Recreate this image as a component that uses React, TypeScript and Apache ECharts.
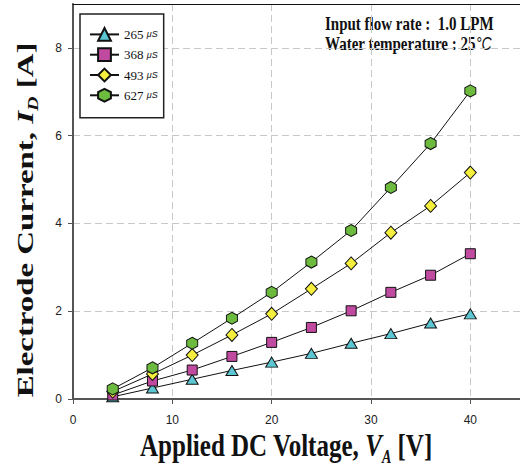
import React, { useEffect, useRef } from "react";
import * as echarts from "echarts";

const voltages = [4, 8, 12, 16, 20, 24, 28, 32, 36, 40];
const seriesNames = ["265", "368", "493", "627"];
const c265 = [0.05, 0.25, 0.45, 0.65, 0.84, 1.04, 1.27, 1.49, 1.73, 1.94];
const c368 = [0.09, 0.41, 0.66, 0.97, 1.29, 1.63, 2.01, 2.43, 2.82, 3.31];
const c493 = [0.17, 0.57, 1.0, 1.46, 1.94, 2.51, 3.09, 3.79, 4.4, 5.16];
const c627 = [0.23, 0.71, 1.27, 1.84, 2.43, 3.12, 3.84, 4.82, 5.82, 7.02];
const xTicks = [0, 10, 20, 30, 40];
const yTicks = [0, 2, 4, 6, 8];

const HEX = "path://M0,-1L0.866,-0.5L0.866,0.5L0,1L-0.866,0.5L-0.866,-0.5Z";

export default function App() {
  const ref = useRef<HTMLDivElement>(null);
  useEffect(() => {
    document.body.style.margin = "0";
    const chart = echarts.init(ref.current!, null, { renderer: "svg" });
    const values = [c265, c368, c493, c627];
    const colors = ["#5cc7d3", "#c04aa0", "#f4ee3c", "#6cbb3e"];
    const symbols = ["triangle", "rect", "diamond", HEX];
    const sizes = [[12, 10], [10, 10], [12, 13], [11, 12]];
    const dash = { color: "#c8c8c8", width: 1, type: [7, 4] as any };
    chart.setOption({
      animation: false,
      grid: { left: 73, right: 0, top: 4, bottom: 68 },
      xAxis: [
        {
          type: "value",
          min: 0,
          max: 45,
          interval: 10,
          axisLine: { lineStyle: { color: "#555", width: 2 } },
          axisTick: { length: 5, customValues: xTicks, lineStyle: { color: "#555", width: 1 } },
          axisLabel: { margin: 15, customValues: xTicks, fontFamily: "Liberation Sans", fontSize: 12, color: "#222" },
          splitLine: { show: true, lineStyle: dash },
        },
        {
          type: "value",
          position: "top",
          min: 0,
          max: 45,
          axisLine: { show: true, onZero: false, lineStyle: { color: "#111", width: 1 } },
          axisTick: { show: false },
          axisLabel: { show: false },
          splitLine: { show: false },
        },
      ],
      yAxis: {
        type: "value",
        min: 0,
        max: 9,
        interval: 2,
        axisLine: { show: true, lineStyle: { color: "#555", width: 2 } },
        axisTick: { show: true, length: 5, customValues: yTicks, lineStyle: { color: "#555", width: 1 } },
        axisLabel: { margin: 11, customValues: yTicks, fontFamily: "Liberation Sans", fontSize: 12, color: "#222" },
        splitLine: { show: true, lineStyle: dash },
      },
      legend: {
        orient: "vertical",
        left: 80,
        top: 14,
        itemWidth: 29,
        itemHeight: 16,
        itemGap: 5.5,
        padding: [13, 6, 15, 9],
        borderColor: "#222",
        borderWidth: 1.5,
        backgroundColor: "#fff",
        data: seriesNames,
        formatter: (n: string) => `{n|${n}} {u|μS}`,
        textStyle: {
          fontFamily: "Liberation Serif",
          fontSize: 13,
          color: "#111",
          rich: {
            n: { fontFamily: "Liberation Serif", fontSize: 13, color: "#111" },
            u: { fontFamily: "Liberation Sans", fontSize: 9, fontStyle: "italic", color: "#111" },
          },
        },
      },
      series: seriesNames.map((name, i) => ({
        name,
        type: "line",
        data: voltages.map((v, j) => [v, values[i][j]]),
        symbol: symbols[i],
        symbolSize: sizes[i],
        showAllSymbol: true,
        lineStyle: { color: "#111", width: 1 },
        itemStyle: { color: colors[i], borderColor: "#111", borderWidth: 1 },
        z: 2 + i,
      })),
      graphic: [
        {
          type: "text",
          x: 286,
          y: 445,
          scaleY: 1.27,
          style: {
            text: "{n|Applied DC Voltage, }{i|V}{s|A}{n| [V]}",
            align: "center",
            verticalAlign: "middle",
            textAlign: "center",
            textVerticalAlign: "middle",
            fill: "#111",
            rich: {
              n: { fontFamily: "Liberation Serif", fontWeight: "bold", fontSize: 25, lineHeight: 33, fill: "#111", color: "#111" },
              i: { fontFamily: "Liberation Serif", fontWeight: "bold", fontStyle: "italic", fontSize: 25, lineHeight: 33, fill: "#111", color: "#111" },
              s: { fontFamily: "Liberation Serif", fontWeight: "bold", fontStyle: "italic", fontSize: 14, lineHeight: 14, verticalAlign: "bottom", fill: "#111", color: "#111" },
            },
          },
        },
        {
          type: "text",
          x: 25,
          y: 220,
          rotation: Math.PI / 2,
          scaleX: 1.43,
          style: {
            text: "{n|Electrode Current, }{i|I}{s|D}{n| [A]}",
            align: "center",
            verticalAlign: "middle",
            textAlign: "center",
            textVerticalAlign: "middle",
            fill: "#111",
            rich: {
              n: { fontFamily: "Liberation Serif", fontWeight: "bold", fontSize: 23, lineHeight: 32, fill: "#111", color: "#111" },
              i: { fontFamily: "Liberation Serif", fontWeight: "bold", fontStyle: "italic", fontSize: 23, lineHeight: 32, fill: "#111", color: "#111" },
              s: { fontFamily: "Liberation Serif", fontWeight: "bold", fontStyle: "italic", fontSize: 14, lineHeight: 14, verticalAlign: "bottom", fill: "#111", color: "#111" },
            },
          },
        },
        {
          type: "text",
          x: 325,
          y: 24,
          scaleY: 1.27,
          style: {
            text: "Input flow rate :  1.0 LPM",
            align: "left",
            verticalAlign: "middle",
            textAlign: "left",
            textVerticalAlign: "middle",
            font: "bold 15px 'Liberation Serif'",
            fill: "#111",
          },
        },
        {
          type: "text",
          x: 325,
          y: 44,
          scaleY: 1.27,
          style: {
            text: "{b|Water temperature : 25}{c|°C}",
            align: "left",
            verticalAlign: "middle",
            textAlign: "left",
            textVerticalAlign: "middle",
            fill: "#111",
            rich: {
              b: { fontFamily: "Liberation Serif", fontWeight: "bold", fontSize: 15, fill: "#111", color: "#111" },
              c: { fontFamily: "Liberation Sans", fontStyle: "italic", fontSize: 14, fill: "#111", color: "#111" },
            },
          },
        },
      ],
    });
    return () => chart.dispose();
  }, []);
  return <div ref={ref} style={{ width: 520, height: 467 }} />;
}
